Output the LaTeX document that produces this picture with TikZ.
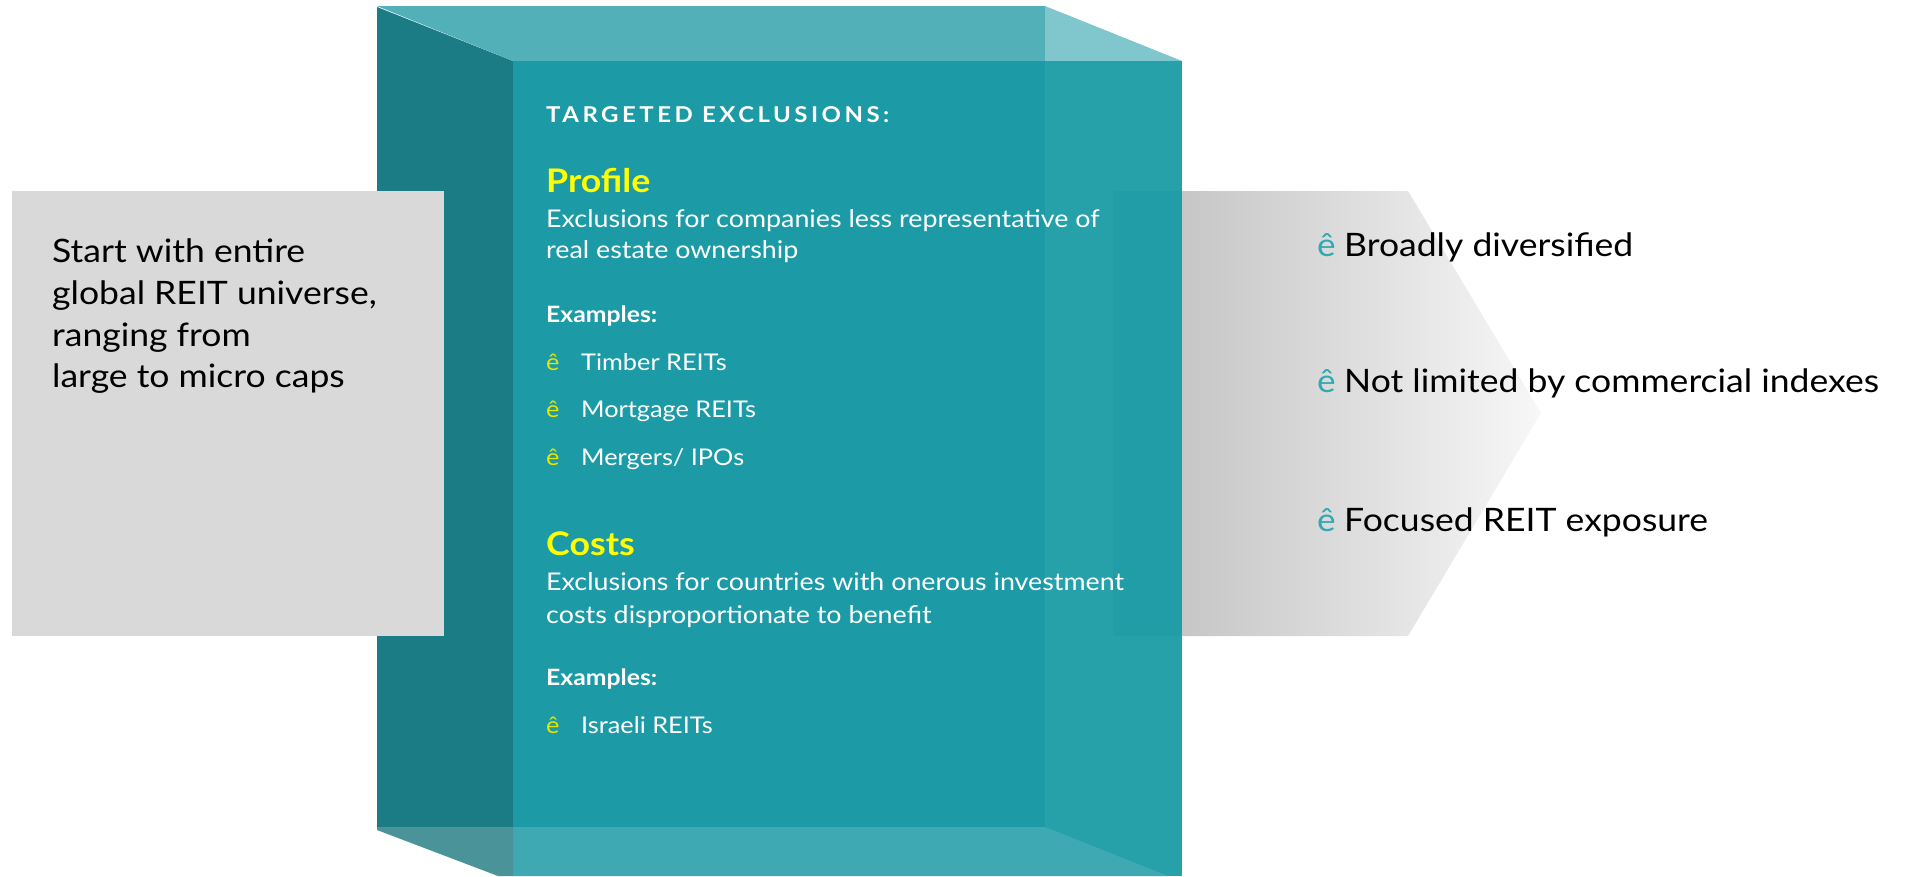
\documentclass[tikz,border=0pt]{standalone}
\usepackage{fontspec}
\setmainfont[FakeStretch=1.1]{Lato}
\newfontfamily\spacedfont[LetterSpace=16,FakeStretch=1.1]{Lato}
\definecolor{topface}{HTML}{52B0B9}
\definecolor{topcorner}{HTML}{80C6CD}
\definecolor{leftface}{HTML}{1B7C86}
\definecolor{frontface}{HTML}{1C9BA7}
\definecolor{sideface}{HTML}{26A1AA}
\definecolor{sideshade}{HTML}{209DA7}
\definecolor{bottomface}{HTML}{3EA9B3}
\definecolor{bottomcorner}{HTML}{4A9499}
\definecolor{panelgray}{HTML}{D9D9D9}
\definecolor{bulletteal}{HTML}{31A8B2}
\definecolor{headyellow}{HTML}{FFFF00}
\definecolor{bulletyellow}{HTML}{E6E600}
\begin{document}
\begin{tikzpicture}[x=1pt,y=-1pt,
  txt/.style={inner sep=0pt,anchor=base west},
  bigtext/.style={txt,font=\fontsize{32.3}{40}\selectfont,text=black},
  bodytext/.style={txt,font=\fontsize{24.4}{30}\selectfont,text=white},
  itemtext/.style={txt,font=\fontsize{23}{30}\selectfont,text=white},
  headtext/.style={txt,font=\bfseries\fontsize{32.5}{38}\selectfont,text=headyellow},
  extext/.style={txt,font=\bfseries\fontsize{22.5}{27}\selectfont,text=white},
  ybullet/.style={txt,font=\fontsize{23}{28}\selectfont,text=bulletyellow},
  tbullet/.style={txt,font=\fontsize{32}{40}\selectfont,text=bulletteal}]
\useasboundingbox (0,0) rectangle (1906,876);

% gray chevron on the right, partly behind the box
\shade[left color=black!26,right color=black!3]
  (1113,191) -- (1408,191) -- (1541,413) -- (1408,636) -- (1113,636) -- cycle;

% translucent box faces
\fill[leftface] (377,7) -- (513,61) -- (513,827) -- (377,827) -- cycle;
\fill[topface] (377,6) -- (1045,6) -- (1045,61) -- (513,61) -- cycle;
\fill[topcorner] (1045,6) -- (1182,61) -- (1045,61) -- cycle;
\fill[frontface] (513,61) rectangle (1045,827);
\fill[sideface] (1045,61) rectangle (1182,876);
\fill[sideshade] (1113,191) rectangle (1182,636);
\fill[bottomface] (513,827) -- (1045,827) -- (1168,876) -- (513,876) -- cycle;
\fill[bottomcorner] (377,827) -- (513,827) -- (513,876) -- (498,876) -- (377,830) -- cycle;

% gray starting panel on the left
\fill[panelgray] (12,191) rectangle (444,636);

% left panel text
\node[bigtext] (s1) at (52,262) {Start with entire};
\node[bigtext] (s2) at (52,304) {global REIT universe,};
\node[bigtext] (s3) at (52,346) {ranging from};
\node[bigtext] (s4) at (52,387) {large to micro caps};

% box contents
\node[txt,font=\spacedfont\bfseries\fontsize{21.8}{26}\selectfont,text=white] (title) at (546,122) {TARGETED EXCLUSIONS:};
\node[headtext] (profile) at (546,192) {Profile};
\node[bodytext] (p1) at (546,227) {Exclusions for companies less representative of};
\node[bodytext] (p2) at (546,258) {real estate ownership};
\node[extext] (pex) at (546,322) {Examples:};
\node[ybullet] (pb1) at (546,370) {ê};
\node[itemtext] (pi1) at (581,370) {Timber REITs};
\node[ybullet] (pb2) at (546,417) {ê};
\node[itemtext] (pi2) at (581,417) {Mortgage REITs};
\node[ybullet] (pb3) at (546,465) {ê};
\node[itemtext] (pi3) at (581,465) {Mergers/ IPOs};

\node[headtext] (costs) at (546,555) {Costs};
\node[bodytext] (c1) at (546,590) {Exclusions for countries with onerous investment};
\node[bodytext] (c2) at (546,623) {costs disproportionate to benefit};
\node[extext] (cex) at (546,685) {Examples:};
\node[ybullet] (cb1) at (546,733) {ê};
\node[itemtext] (ci1) at (581,733) {Israeli REITs};

% outcomes on the right
\node[tbullet] (rb1) at (1317,256) {ê};
\node[bigtext] (r1) at (1344,256) {Broadly diversified};
\node[tbullet] (rb2) at (1317,392) {ê};
\node[bigtext] (r2) at (1344,392) {Not limited by commercial indexes};
\node[tbullet] (rb3) at (1317,531) {ê};
\node[bigtext] (r3) at (1344,531) {Focused REIT exposure};
\end{tikzpicture}
\end{document}
